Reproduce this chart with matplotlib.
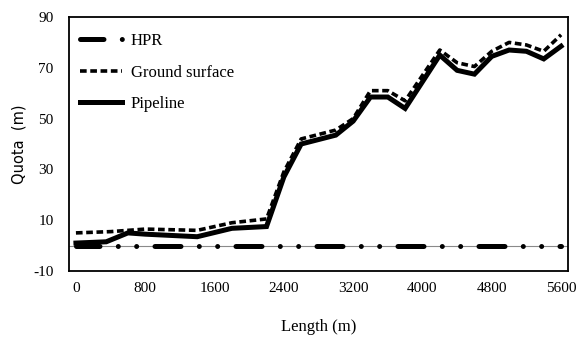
import matplotlib
matplotlib.use("Agg")
import matplotlib.pyplot as plt

plt.rcParams['lines.scale_dashes'] = False

# Data
pipe_x = [0, 350, 600, 800, 1400, 1800, 2200, 2400, 2600, 3000, 3200, 3400, 3600, 3800,
          4200, 4400, 4600, 4800, 5000, 5200, 5400, 5600]
pipe_y = [1, 1.5, 5, 4.5, 3.5, 6.8, 7.5, 27, 40, 43.5, 49, 58.5, 58.5, 54,
          75, 69, 67.5, 74.5, 77, 76.5, 73.5, 78.5]

ground_x = [0, 400, 800, 1400, 1800, 2200, 2400, 2600, 3000, 3200, 3400, 3600, 3800,
            4200, 4400, 4600, 4800, 5000, 5200, 5400, 5600]
ground_y = [5, 5.5, 6.5, 6, 9, 10.5, 29, 42, 45.5, 50, 61, 61, 57,
            77, 72, 70.5, 76.5, 80, 79, 76.5, 83]

hpr_x = [0, 5600]
hpr_y = [0, 0]

xticks = [0, 800, 1600, 2400, 3200, 4000, 4800, 5600]
yticks = [-10, 10, 30, 50, 70, 90]

fig = plt.figure(figsize=(5.78, 3.41), dpi=100)
ax = fig.add_axes([69/578, (341-271)/341, (568-69)/578, (271-17)/341])

ax.axhline(0, color='#8a8a8a', lw=0.8, zorder=1)

l_hpr, = ax.plot(hpr_x, hpr_y, color='black', lw=3.6,
                 dash_capstyle='round', label='HPR', zorder=3,
                 linestyle=(1.8, (18.7, 13.2, 0.01, 13.2, 0.01, 13.2)))

l_gr, = ax.plot(ground_x, ground_y, color='black', lw=2.6, label='Ground surface',
                dash_capstyle='butt', zorder=4, linestyle=(0, (4.8, 2.6)))

l_pipe, = ax.plot(pipe_x, pipe_y, color='black', lw=3.6, label='Pipeline',
                  solid_joinstyle='miter', zorder=5)

ax.set_xlim(-80, 5680)
ax.set_ylim(-10, 90)
ax.set_xticks(xticks)
ax.set_yticks(yticks)
ax.set_xticklabels([str(v) for v in xticks], fontfamily='Liberation Serif', fontsize=11)
ax.set_yticklabels([str(v) for v in yticks], fontfamily='Liberation Serif', fontsize=11)
ax.tick_params(axis='both', length=0)
ax.tick_params(axis='x', pad=8)
ax.tick_params(axis='y', pad=11)

for s in ax.spines.values():
    s.set_linewidth(1.3)
    s.set_color('black')

ax.set_xlabel('Length (m)', fontfamily='Liberation Serif', fontsize=12, labelpad=17)
ax.set_ylabel('Quota  (m)', fontfamily='DejaVu Sans', fontsize=10.5, labelpad=5)

leg = ax.legend(loc='upper left', bbox_to_anchor=(80/578, 1 - 33/341),
                bbox_transform=fig.transFigure, frameon=False,
                prop={'family': 'Liberation Serif', 'size': 12},
                handlelength=2.5, handletextpad=0.55, labelspacing=0.94,
                borderpad=0, borderaxespad=0)

fig.savefig('out.png', dpi=100)
